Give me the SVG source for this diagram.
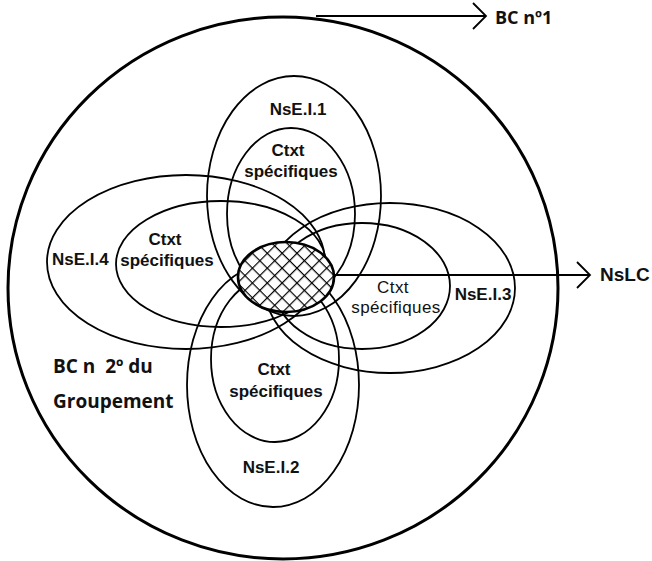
<svg xmlns="http://www.w3.org/2000/svg" width="652" height="561" viewBox="0 0 652 561">
<style>
.e{fill:none;stroke:#000;stroke-width:1.8}
.t{font-family:"Liberation Sans",Arial,sans-serif;font-weight:bold;font-size:17px;fill:#111;text-anchor:middle}
.n{font-weight:normal;letter-spacing:0.4px}
.s{text-anchor:start}
.o{font-family:"Open Sans","Liberation Sans",sans-serif;font-size:18px}
.c{fill:none;stroke:#000;stroke-width:1.8}
</style>
<defs>
<pattern id="hatch" width="10.5" height="10.5" patternUnits="userSpaceOnUse" patternTransform="rotate(45)">
<rect width="10.5" height="10.5" fill="#fff"/>
<line x1="0" y1="0" x2="0" y2="10.5" stroke="#000" stroke-width="2.4"/>
<line x1="0" y1="0" x2="10.5" y2="0" stroke="#000" stroke-width="2.4"/>
</pattern>
<marker id="chev" markerWidth="16" markerHeight="30" refX="14" refY="14" orient="auto" markerUnits="userSpaceOnUse">
<path d="M1,1 L14,14 L1,27" fill="none" stroke="#000" stroke-width="1.8"/>
</marker>
</defs>
<rect width="652" height="561" fill="#fff"/>
<g id="bc-groupement">
<ellipse cx="283" cy="288" rx="275" ry="271" fill="none" stroke="#000" stroke-width="3"/>
<text class="t s o" x="53" y="373" style="font-size:19px">BC n&#160; 2º du</text>
<text class="t s o" x="53" y="408" style="font-size:19px">Groupement</text>
</g>
<g id="nsei1">
<ellipse class="e" cx="294" cy="196" rx="87" ry="120"/>
<text class="t" x="298" y="115">NsE.I.1</text>
</g>
<g id="nsei4">
<ellipse class="e" cx="186" cy="262" rx="139" ry="87"/>
<text class="t s" x="52" y="265">NsE.I.4</text>
</g>
<g id="nsei3">
<ellipse class="e" cx="390" cy="288" rx="125" ry="85"/>
<text class="t" x="483" y="300">NsE.I.3</text>
</g>
<g id="nsei2">
<ellipse class="e" cx="273" cy="385" rx="86" ry="122"/>
<text class="t" x="271" y="473">NsE.I.2</text>
</g>
<g id="ctxt1">
<ellipse class="e" cx="291" cy="214" rx="64" ry="86"/>
<text class="t" x="288" y="156">Ctxt</text>
<text class="t" x="291" y="177">spécifiques</text>
</g>
<g id="ctxt4">
<ellipse class="e" cx="221" cy="264" rx="105" ry="63"/>
<text class="t" x="165" y="245">Ctxt</text>
<text class="t" x="167" y="266">spécifiques</text>
</g>
<g id="ctxt3">
<ellipse class="e" cx="362" cy="286" rx="88" ry="63"/>
<text class="t n" x="393" y="293">Ctxt</text>
<text class="t n" x="396" y="313">spécifiques</text>
</g>
<g id="ctxt2">
<ellipse class="e" cx="275" cy="359" rx="64" ry="83"/>
<text class="t" x="274" y="375">Ctxt</text>
<text class="t" x="276" y="397">spécifiques</text>
</g>
<g id="nslc-core">
<ellipse cx="286" cy="277" rx="48" ry="35" fill="url(#hatch)" stroke="#000" stroke-width="2.6"/>
</g>
<g id="connectors">
<line class="c" x1="316" y1="16" x2="486" y2="16" marker-end="url(#chev)"/>
<line class="c" x1="333" y1="275" x2="590" y2="275" marker-end="url(#chev)"/>
</g>
<g id="labels">
<text class="t s o" x="495" y="24">BC nº1</text>
<text class="t s" x="600" y="281" style="font-size:19px">NsLC</text>
</g>
</svg>
